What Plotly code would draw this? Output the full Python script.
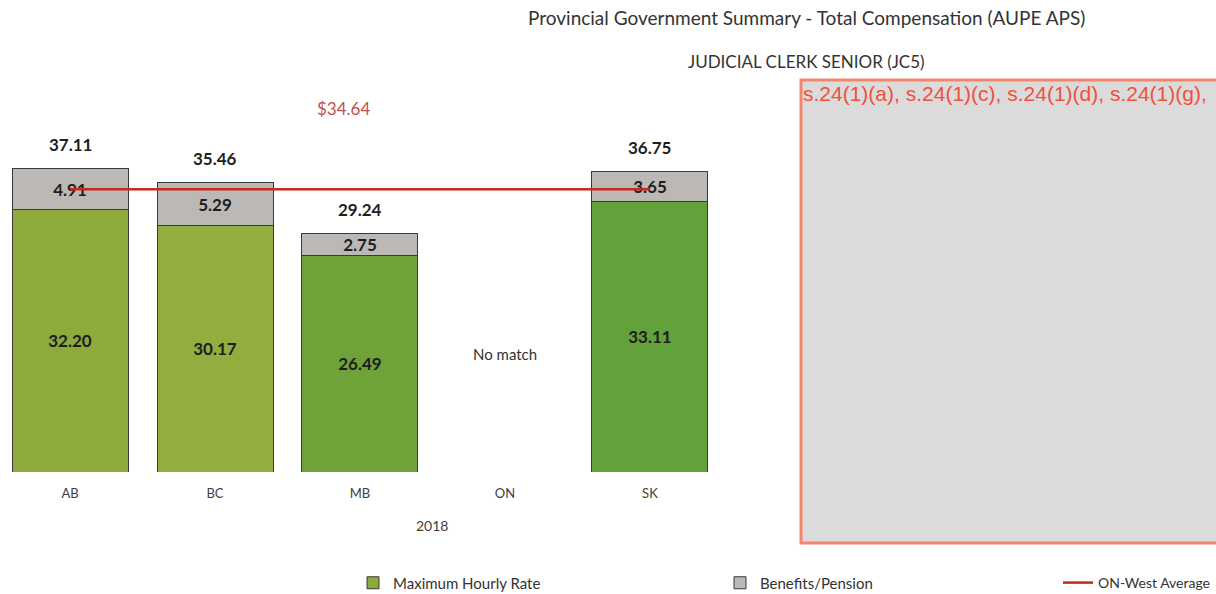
import plotly.graph_objects as go

provinces = ["AB", "BC", "MB", "ON", "SK"]
max_hourly = [32.20, 30.17, 26.49, None, 33.11]
benefits = [4.91, 5.29, 2.75, None, 3.65]
totals = [37.11, 35.46, 29.24, None, 36.75]
on_west_avg = 34.64
green_colors = ["#8cab3c", "#93ad3e", "#6fa33a", "#6fa33a", "#63a23a"]

FONT = "Lato"
fig = go.Figure()

fig.add_trace(go.Bar(
    x=provinces, y=max_hourly, name="Maximum Hourly Rate",
    marker=dict(color=green_colors, line=dict(color="#3a3a3a", width=1)),
    width=0.8,
    text=[f"{v:.2f}" if v is not None else "" for v in max_hourly],
    textposition="inside", insidetextanchor="middle", constraintext="none",
    textfont=dict(family=FONT, size=17, color="#1e1e1e", weight="bold"),
    legend="legend",
))
fig.add_trace(go.Bar(
    x=provinces, y=benefits, name="Benefits/Pension",
    marker=dict(color="#bcb8b6", line=dict(color="#3a3a3a", width=1)),
    width=0.8,
    text=[f"{v:.2f}" if v is not None else "" for v in benefits],
    textposition="inside", insidetextanchor="middle", constraintext="none",
    textfont=dict(family=FONT, size=17, color="#1e1e1e", weight="bold"),
    legend="legend2",
))
fig.add_trace(go.Scatter(
    x=provinces, y=[on_west_avg] * len(provinces), name="ON-West Average",
    mode="lines", line=dict(color="#c8281e", width=2.5),
    legend="legend3",
))

annotations = []
for p, t in zip(provinces, totals):
    if t is None:
        annotations.append(dict(x=p, y=14.5, text="No match", showarrow=False,
                                font=dict(family=FONT, size=15, color="#333333")))
    else:
        annotations.append(dict(x=p, y=t, text=f"{t:.2f}", showarrow=False, yshift=24,
                                font=dict(family=FONT, size=17, color="#1e1e1e", weight="bold")))

annotations.append(dict(x="MB", y=on_west_avg, text=f"${on_west_avg:.2f}", showarrow=False,
                        xshift=-16, yshift=81,
                        font=dict(family=FONT, size=17, color="#c0504d")))

W = 722.0
def px(xp):
    return xp / W
def py(yp):
    return (472 - yp) / 462.0

annotations += [
    dict(xref="paper", yref="paper", x=px(432), y=py(525), text="2018", showarrow=False,
         xanchor="center", yanchor="middle", font=dict(family=FONT, size=14, color="#404040")),
    dict(xref="paper", yref="paper", x=px(806), y=py(18), xanchor="center", yanchor="middle",
         text="Provincial Government Summary - Total Compensation (AUPE APS)",
         showarrow=False, font=dict(family=FONT, size=19, color="#333333")),
    dict(xref="paper", yref="paper", x=px(806), y=py(62), xanchor="center", yanchor="middle",
         text="JUDICIAL CLERK SENIOR (JC5)",
         showarrow=False, font=dict(family=FONT, size=17, color="#333333")),
    dict(xref="paper", yref="paper", x=px(801), y=py(94), xanchor="left", yanchor="middle",
         text="s.24(1)(a), s.24(1)(c), s.24(1)(d), s.24(1)(g),",
         showarrow=False, font=dict(family="Liberation Sans", size=21, color="#f0503c")),
]

shapes = [
    dict(type="rect", xref="paper", yref="paper", x0=px(801), x1=px(1240), y0=py(543), y1=py(80),
         fillcolor="#dcdbdb", line=dict(color="#f4866c", width=3), layer="below"),
]

leg_font = dict(family=FONT, size=15, color="#333333")
fig.update_layout(
    width=1216, height=594,
    margin=dict(l=0, r=494, t=10, b=122, autoexpand=False),
    barmode="stack", bargap=0.2,
    plot_bgcolor="white", paper_bgcolor="white",
    xaxis=dict(range=[-0.483, 4.497], showgrid=False, showline=False, ticks="",
               tickfont=dict(family=FONT, size=13, color="#404040"), ticklabelstandoff=12),
    yaxis=dict(range=[0, 56.58], visible=False),
    annotations=annotations, shapes=shapes,
    legend=dict(x=px(353), y=py(583), xanchor="left", yanchor="middle", font=leg_font,
                bgcolor="rgba(0,0,0,0)"),
    legend2=dict(x=px(720), y=py(583), xanchor="left", yanchor="middle", font=leg_font,
                 bgcolor="rgba(0,0,0,0)"),
    legend3=dict(x=px(1058), y=py(583), xanchor="left", yanchor="middle",
                 font=dict(family=FONT, size=14, color="#333333"),
                 bgcolor="rgba(0,0,0,0)"),
    showlegend=True,
)

fig.write_html("out.html", config={"displayModeBar": False},
               post_script="document.body.style.margin='0';document.body.style.overflow='hidden';")
